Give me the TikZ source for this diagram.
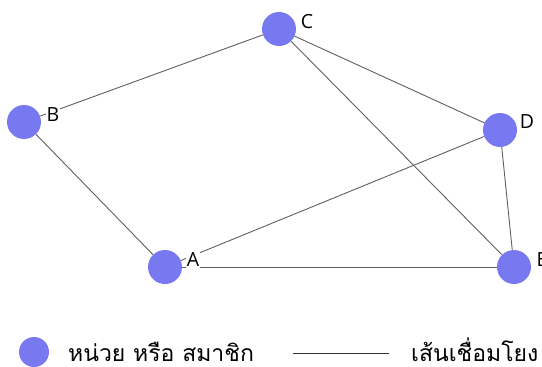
\documentclass[tikz,border=0pt]{standalone}
\usepackage{fontspec}
\setmainfont{Open Sans}
\newfontfamily\thaifont[Script=Thai]{Loma}
\definecolor{nodeblue}{RGB}{120,120,240}
\definecolor{edgegray}{RGB}{95,95,95}
\begin{document}
\begin{tikzpicture}[x=1pt,y=-1pt,
  member/.style={circle,fill=nodeblue,minimum size=34pt,inner sep=0pt},
  lbl/.style={fill=white,inner sep=0.6pt,font=\fontsize{19.5}{22}\selectfont},
  link/.style={draw=edgegray,line width=0.9pt},
  thai/.style={font=\thaifont\fontsize{23}{26}\selectfont,anchor=base west,inner sep=0pt}]
\useasboundingbox (0,0) rectangle (542,367);
\node[member] (C) at (279,29) {};
\node[member] (B) at (24,122) {};
\node[member] (D) at (500,130) {};
\node[member] (A) at (165,267) {};
\node[member] (E) at (514,267) {};
\draw[link] (B) -- (C);
\draw[link] (B) -- (A);
\draw[link] (C) -- (D);
\draw[link] (C) -- (E);
\draw[link] (A) -- (D);
\draw[link] (D) -- (E);
\draw[link] (A) -- (E);
\node[lbl] (Cl) at (307,22) {C};
\node[lbl] (Bl) at (53,115) {B};
\node[lbl] (Dl) at (527,122) {D};
\node[lbl] (Al) at (193,260) {A};
\node[lbl] (El) at (542,260) {E};
% legend
\node[member,minimum size=30pt] (leg) at (34,352) {};
\node[thai] (legt1) at (68,361) {หน่วย หรือ สมาชิก};
\coordinate (l1) at (293,353);
\coordinate (l2) at (389,353);
\draw[link,draw=black!80] (l1) -- (l2);
\node[thai] (legt2) at (411,361) {เส้นเชื่อมโยง};
\end{tikzpicture}
\end{document}
